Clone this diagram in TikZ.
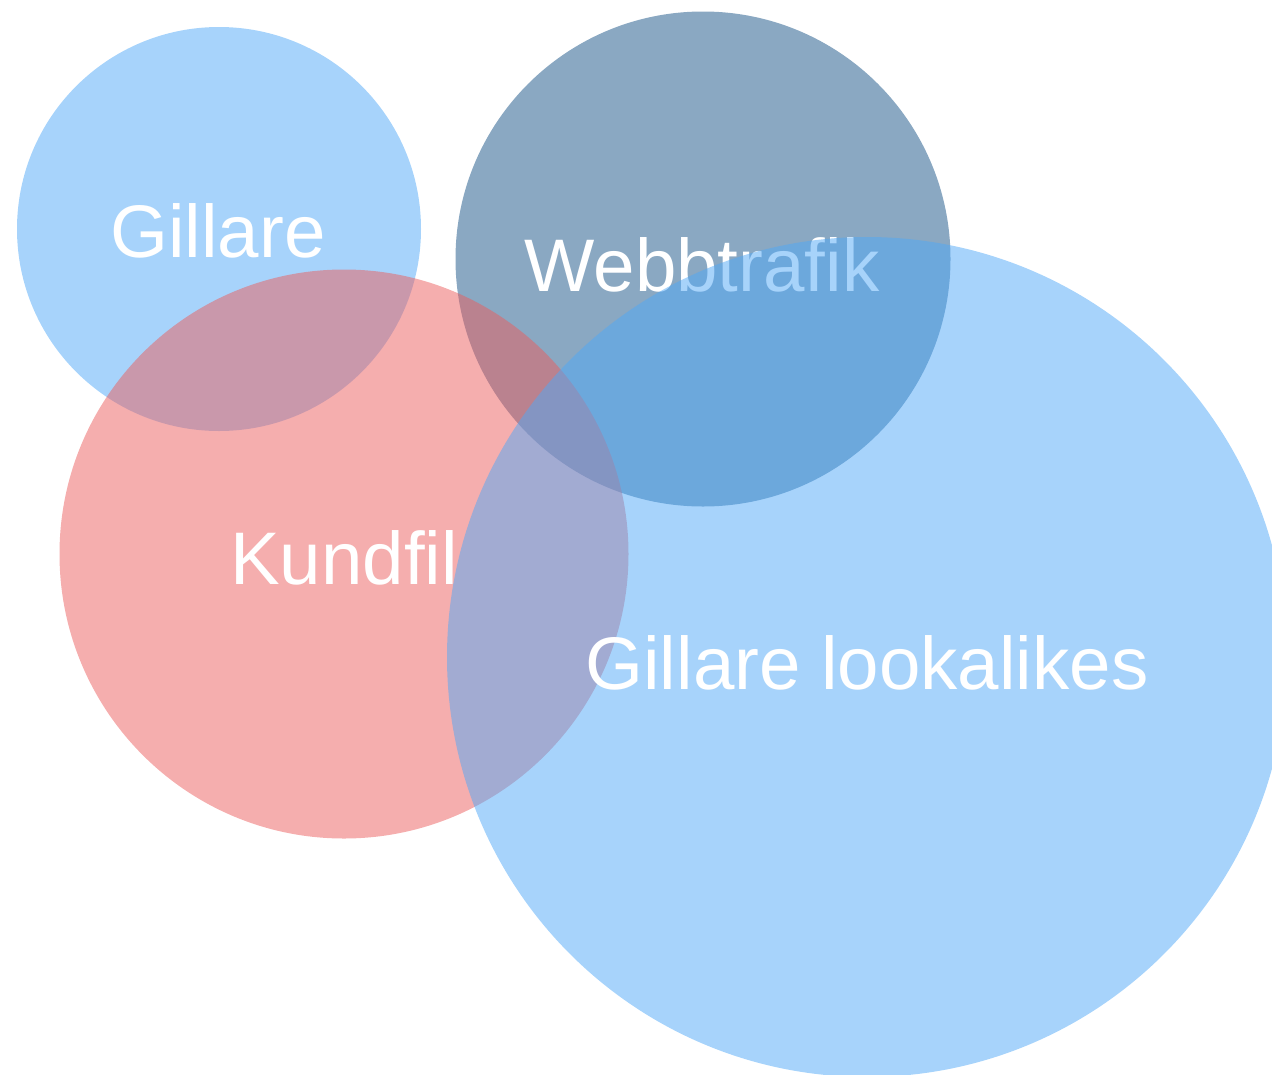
\documentclass[tikz,border=0pt]{standalone}
\usepackage{fontspec}
\setmainfont{Liberation Sans}
\usepackage{tikz}
\definecolor{likeblue}{HTML}{50A8F7}
\definecolor{webbslate}{HTML}{155185}
\definecolor{kundred}{HTML}{EB5D5D}

\begin{document}
\begin{tikzpicture}[x=1pt, y=-1pt,
    set/.style = {circle, draw=none, inner sep=0pt, fill opacity=0.5},
    lbl/.style = {anchor=base, text=white, inner sep=0pt, font=\fontsize{74.5}{80}\selectfont}]
      \clip (0,0) rectangle (1272,1074);
      \node [set, fill=likeblue, minimum size=404] (gillare) at (219, 229) {};
      \node [lbl] (gillare text) at (218, 257) {Gillare};
      \node [set, fill=webbslate, minimum size=495] (webb) at (703, 259) {};
      \node [lbl] (webb text) at (702, 291) {Webbtrafik};
      \node [set, fill=kundred, minimum size=569] (kund) at (344, 554) {};
      \node [lbl] (kund text) at (344, 584) {Kundfil};
      \node [set, fill=likeblue, minimum size=840] (look) at (867, 657) {};
      \node [lbl] (look text) at (867, 689) {Gillare lookalikes};
    \end{tikzpicture}
\end{document}
